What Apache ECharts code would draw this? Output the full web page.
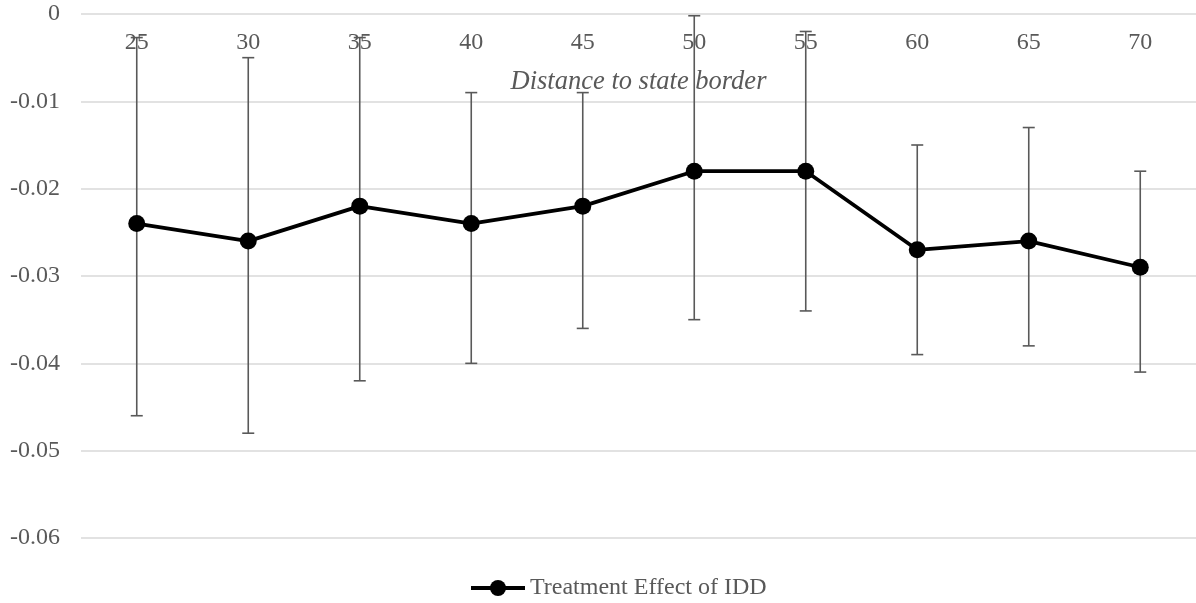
<!DOCTYPE html>
<html>
<head>
<meta charset="utf-8">
<script src="https://cdn.jsdelivr.net/npm/echarts@6/dist/echarts.min.js"></script>
<style>html,body{margin:0;padding:0;background:#fff}#c{width:1196px;height:603px}</style>
</head>
<body>
<div id="c"></div>
<script>
const categories = ['25','30','35','40','45','50','55','60','65','70'];
const effect = [-0.024,-0.026,-0.022,-0.024,-0.022,-0.018,-0.018,-0.027,-0.026,-0.029];
const upper = [-0.0027,-0.005,-0.0027,-0.009,-0.009,-0.0002,-0.002,-0.015,-0.013,-0.018];
const lower = [-0.046,-0.048,-0.042,-0.040,-0.036,-0.035,-0.034,-0.039,-0.038,-0.041];
const yTicks = [0,-0.01,-0.02,-0.03,-0.04,-0.05,-0.06];

const errData = categories.map((c,i)=>[i, upper[i], lower[i]]);
const font = '"Liberation Serif","Times New Roman",serif';
const chart = echarts.init(document.getElementById('c'));
chart.setOption({
  animation:false,
  textStyle:{fontFamily:font},
  grid:{left:81, top:14, width:1120, height:524, containLabel:false},
  legend:{
    data:['Treatment Effect of IDD'], top:571, left:464,
    itemWidth:54, itemHeight:20, itemGap:4,
    lineStyle:{width:4},
    textStyle:{fontFamily:font, fontSize:24, color:'#595959'}
  },
  xAxis:{
    type:'category', data:categories, position:'top',
    axisLine:{show:false}, axisTick:{show:false},
    axisLabel:{inside:true, margin:17, fontSize:24, color:'#595959', fontFamily:font},
    name:'Distance to state border', nameLocation:'middle', nameGap:-82,
    nameTextStyle:{fontFamily:font, fontSize:26.5, fontStyle:'italic', color:'#595959'}
  },
  yAxis:{
    type:'value', min:yTicks[yTicks.length-1], max:yTicks[0], interval:0.01,
    axisLine:{show:false}, axisTick:{show:false},
    axisLabel:{fontSize:24, color:'#595959', fontFamily:font, margin:21,
      formatter:v=>{const r=Math.round(v*100)/100; return r===0?'0':String(r);}},
    splitLine:{lineStyle:{color:'#d9d9d9', width:1.5}}
  },
  series:[
    {
      type:'custom', name:'err', z:2, silent:true,
      data:errData,
      renderItem:(params, api)=>{
        const x=api.value(0);
        const top=api.coord([x, api.value(1)]);
        const bot=api.coord([x, api.value(2)]);
        const hw=6;
        const st={stroke:'#595959', lineWidth:1.6};
        return {type:'group', children:[
          {type:'line', shape:{x1:top[0],y1:top[1],x2:bot[0],y2:bot[1]}, style:st},
          {type:'line', shape:{x1:top[0]-hw,y1:top[1],x2:top[0]+hw,y2:top[1]}, style:st},
          {type:'line', shape:{x1:bot[0]-hw,y1:bot[1],x2:bot[0]+hw,y2:bot[1]}, style:st}
        ]};
      }
    },
    {
      type:'line', name:'Treatment Effect of IDD', z:5, data:effect,
      symbol:'circle', symbolSize:17,
      lineStyle:{color:'#000', width:3.8},
      itemStyle:{color:'#000'}
    }
  ]
});
</script>
</body>
</html>
